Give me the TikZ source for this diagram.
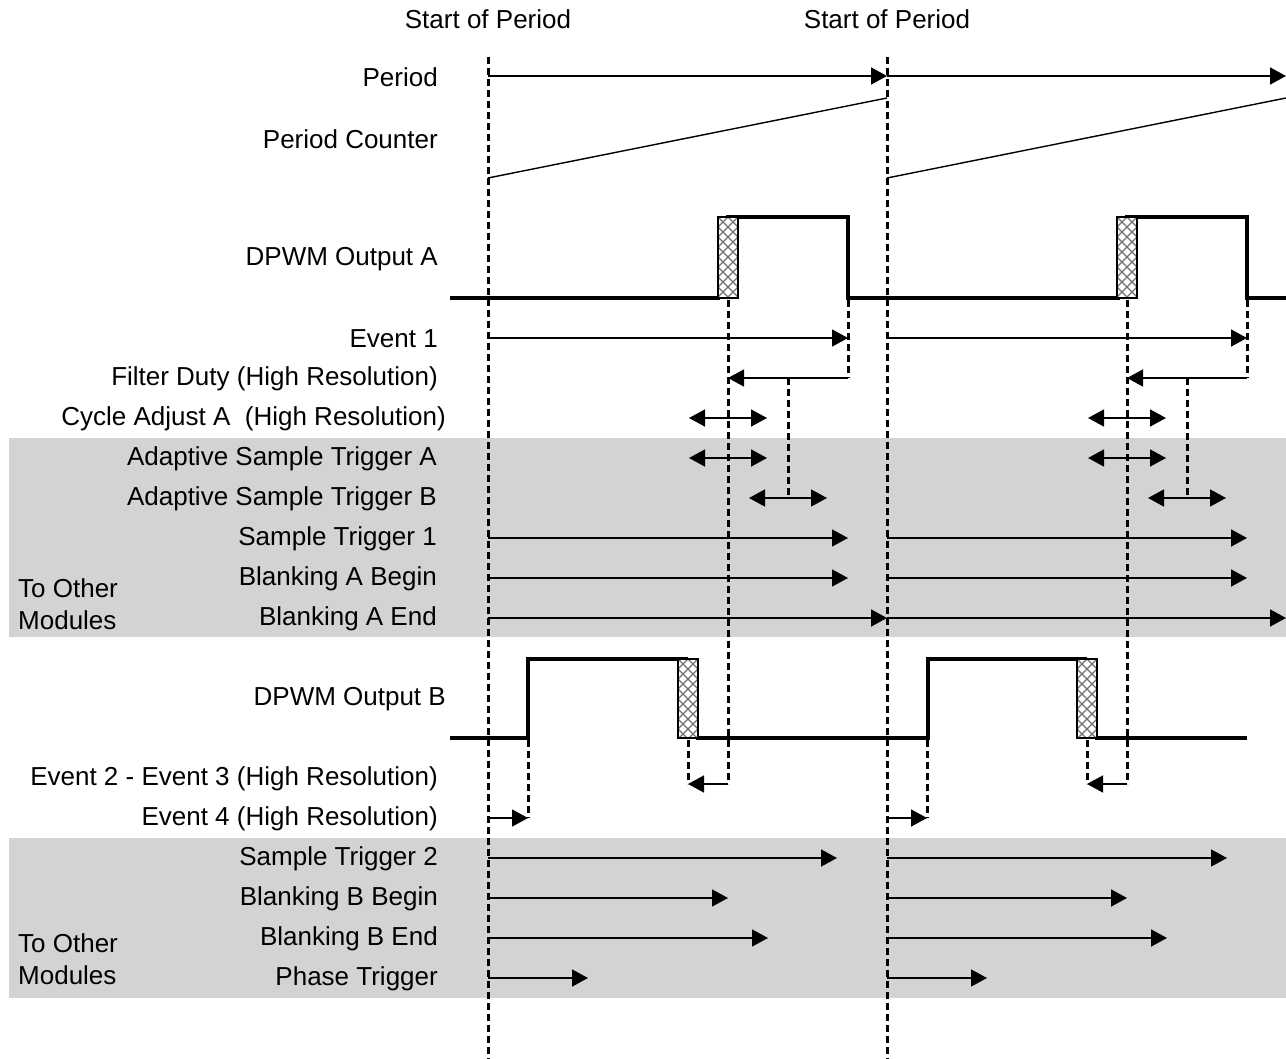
\documentclass[tikz,border=0pt]{standalone}
\usepackage{fontspec}
\setmainfont{Liberation Sans}
\usetikzlibrary{arrows.meta}
\definecolor{bandgray}{RGB}{209,211,213}
\tikzset{
  lbl/.style={anchor=east,inner sep=0pt,font=\fontsize{26}{30}\selectfont},
  lblL/.style={anchor=west,inner sep=0pt,font=\fontsize{26}{30}\selectfont},
  sig/.style={line width=1.6pt,-{Triangle[length=16pt,width=17pt]}},
  dsig/.style={line width=1.6pt,{Triangle[length=16pt,width=17pt]}-{Triangle[length=16pt,width=17pt]}},
  wave/.style={line width=4pt,line join=miter},
  guide/.style={line width=3pt,dash pattern=on 7pt off 4pt},
  band/.style={fill=bandgray,draw=none},
}
\newcommand{\hatchbox}[4]{%
  \begin{scope}
    \clip (#1,#2) rectangle (#3,#4);
    \fill[white] (#1,#2) rectangle (#3,#4);
    \foreach \k in {-120,-110,...,120}{
      \draw[black!55,line width=1.1pt] (#1+\k,#2) -- ++(90,90);
      \draw[black!55,line width=1.1pt] (#1+\k,#2) -- ++(-90,90);
    }
  \end{scope}
  \draw[line width=1.4pt] (#1,#2) rectangle (#3,#4);
}
\begin{document}
\begin{tikzpicture}[x=1pt,y=-1pt]
\useasboundingbox (0,0) rectangle (1286,1059);
% bands
\fill[band] (9,438) rectangle (1286,637);
\fill[band] (9,838) rectangle (1286,998);
% titles
\node[font=\fontsize{26}{30}\selectfont] (sop1) at (488,19) {Start of Period};
\node[font=\fontsize{26}{30}\selectfont] (sop2) at (887,19) {Start of Period};
% labels
\node[lbl] (lPeriod) at (438,77) {Period};
\node[lbl] (lPC) at (438,139) {Period Counter};
\node[lbl] (lOA) at (438,259) {DPWM Output A};
\node[lbl] (lE1) at (438,339) {Event 1};
\node[lbl] (lFD) at (438,379) {Filter Duty (High Resolution)};
\node[lbl] (lCA) at (446,419) {Cycle Adjust A\ \ (High Resolution)};
\node[lbl] (lASA) at (437,459) {Adaptive Sample Trigger A};
\node[lbl] (lASB) at (437,499) {Adaptive Sample Trigger B};
\node[lbl] (lST1) at (437,539) {Sample Trigger 1};
\node[lbl] (lBAB) at (437,579) {Blanking A Begin};
\node[lbl] (lBAE) at (437,619) {Blanking A End};
\node[lblL] (lTO1) at (18,588) {To Other};
\node[lblL] (lM1) at (18,620) {Modules};
\node[lbl] (lOB) at (446,699) {DPWM Output B};
\node[lbl] (lE23) at (438,779) {Event 2 - Event 3 (High Resolution)};
\node[lbl] (lE4) at (438,819) {Event 4 (High Resolution)};
\node[lbl] (lST2) at (438,859) {Sample Trigger 2};
\node[lbl] (lBBB) at (438,899) {Blanking B Begin};
\node[lbl] (lBBE) at (438,939) {Blanking B End};
\node[lbl] (lPT) at (438,979) {Phase Trigger};
\node[lblL] (lTO2) at (18,943) {To Other};
\node[lblL] (lM2) at (18,975) {Modules};
% period guides
\coordinate (g1t) at (488,57); \coordinate (g1b) at (488,1059);
\coordinate (g2t) at (887,57); \coordinate (g2b) at (887,1059);
\draw[guide] (g1t) -- (g1b);
\draw[guide] (g2t) -- (g2b);
% period arrows and counter ramps
\draw[sig] (488,76) -- (887,76);
\draw[sig] (887,76) -- (1286,76);
\draw[line width=1.4pt] (488,178) -- (887,98);
\draw[line width=1.4pt] (887,178) -- (1286,98);
% waveform A
\draw[wave] (450,298) -- (720,298);
\draw[wave] (726,217) -- (848,217) -- (848,298) -- (1120,298);
\draw[wave] (1125,217) -- (1247,217) -- (1247,298) -- (1286,298);
\hatchbox{718}{217}{738}{298}
\hatchbox{1117}{217}{1137}{298}
% waveform B
\draw[wave] (450,738) -- (528,738) -- (528,659) -- (688,659);
\draw[wave] (696,738) -- (928,738) -- (928,659) -- (1087,659);
\draw[wave] (1095,738) -- (1247,738);
\hatchbox{678}{659}{698}{738}
\hatchbox{1077}{659}{1097}{738}
% per-period marks
\foreach \s in {0,399}{
  \begin{scope}[xshift=\s]
    \draw[guide] (728,300) -- (728,784);
    \draw[guide] (848,300) -- (848,378);
    \draw[guide] (788,378) -- (788,498);
    \draw[guide] (688,740) -- (688,784);
    \draw[guide] (528,740) -- (528,818);
    \draw[sig] (488,338) -- (848,338);
    \draw[sig] (848,378) -- (728,378);
    \draw[dsig] (689,418) -- (767,418);
    \draw[dsig] (689,458) -- (767,458);
    \draw[dsig] (749,498) -- (827,498);
    \draw[sig] (488,538) -- (848,538);
    \draw[sig] (488,578) -- (848,578);
    \draw[sig] (488,618) -- (887,618);
    \draw[sig] (728,784) -- (688,784);
    \draw[sig] (488,818) -- (528,818);
    \draw[sig] (488,898) -- (728,898);
    \draw[sig] (488,938) -- (768,938);
    \draw[sig] (488,978) -- (588,978);
  \end{scope}
}
\draw[sig] (488,858) -- (837,858);
\draw[sig] (887,858) -- (1227,858);
\end{tikzpicture}
\end{document}
